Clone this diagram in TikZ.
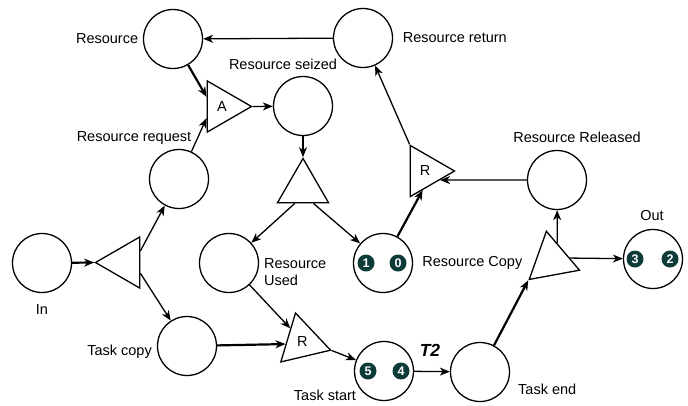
\documentclass[tikz,border=0pt]{standalone}
\usepackage{xcolor}
\usepackage{fontspec}
\setmainfont{Liberation Sans}
\usepackage{tikz}
\usetikzlibrary{shapes,arrows,positioning,calc,arrows.meta}

\definecolor{tokencol}{HTML}{0D3B38}

\tikzset{
    place/.style={draw, circle, minimum size=59pt, inner sep=0pt, line width=1.3pt},
    trans/.style={draw, regular polygon, regular polygon sides=3, minimum size=59pt,
        inner sep=0pt, line width=1.3pt, font=\fontsize{14.5}{17}\selectfont},
    token/.style={circle, fill=tokencol, text=white, minimum size=17pt, inner sep=0pt,
        font=\fontsize{12.5}{14}\selectfont\bfseries},
    lbl/.style={inner sep=0pt, font=\fontsize{14.5}{17}\selectfont},
    arc/.style={-{Stealth[length=10pt,width=8pt,inset=3pt]}, line width=1.3pt},
    heavyarc/.style={arc, line width=2.2pt}
}

\begin{document}
\begin{tikzpicture}[x=1pt,y=-1pt]
    \useasboundingbox (0,0) rectangle (688,405);

    % places
    \node[place] (res) at (173,39) {};
    \node[place] (ret) at (363,38) {};
    \node[place] (seized) at (303,106) {};
    \node[place] (req) at (179,179) {};
    \node[place] (rel) at (557,180) {};
    \node[place] (in) at (42,263) {};
    \node[place] (used) at (229,263) {};
    \node[place] (copy) at (383,263) {};
    \node[place] (out) at (653,259) {};
    \node[place] (tcopy) at (187,346) {};
    \node[place] (tstart) at (384,371) {};
    \node[place] (tend) at (480,372) {};

    % transitions
    \node[trans, regular polygon rotate=-90] (tA) at (222,106.5) {A};
    \node[trans, regular polygon rotate=90] (tL) at (125,262.5) {};
    \node[trans] (tMid) at (303,188) {};
    \node[trans, regular polygon rotate=-90] (tR1) at (425,171) {R};
    \node[trans, regular polygon rotate=-106.7] (tR2) at (302.3,341.7) {R};
    \node[trans, regular polygon rotate=-109.6] (tRt) at (551.7,260.3) {};

    % tokens
    \node[token, xshift=-17pt] (tok1) at (copy) {1};
    \node[token, xshift=15pt] (tok0) at (copy) {0};
    \node[token, xshift=-16pt] (tok5) at (tstart) {5};
    \node[token, xshift=17pt] (tok4) at (tstart) {4};
    \node[token, xshift=-18pt] (tok3) at (out) {3};
    \node[token, xshift=17pt] (tok2) at (out) {2};

    % labels
    \node[lbl, left=4.5pt of res] (resL) {Resource};
    \node[lbl, right=9.5pt of ret] (retL) {Resource return};
    \node[lbl] (seizedL) at (283,64) {Resource seized};
    \node[lbl] (reqL) at (134,138) {Resource request};
    \node[lbl] (relL) at (577,137) {Resource Released};
    \node[lbl, anchor=west, align=left] (usedL) at (264,272) {Resource\\Used};
    \node[lbl, right=9pt of copy] (copyL) {Resource Copy};
    \node[lbl] (outL) at (652,216) {Out};
    \node[lbl] (inL) at (42,310) {In};
    \node[lbl, anchor=east] (tcopyL) at (152,352) {Task copy};
    \node[lbl] (tstartL) at (325,395) {Task start};
    \node[lbl, anchor=west] (tendL) at (518,389) {Task end};
    \node[inner sep=0pt, font=\fontsize{17.5}{20}\selectfont\bfseries\itshape] (t2L) at (430,350) {T2};

    % arcs
    \draw[arc] (ret) -- (res);
    \draw[heavyarc] (res) -- (tA.148);
    \draw[arc] (req) -- (tA.217);
    \draw[arc] (tA.corner 1) -- (seized);
    \draw[arc] (seized) -- (tMid.corner 1);
    \draw[arc] (tMid.242) -- (used);
    \draw[arc] (tMid.-56) -- (copy);
    \draw[heavyarc] (copy) -- (tR1.263);
    \draw[arc] (tR1.corner 2) -- (ret);
    \draw[arc] (rel) -- (tR1.-31);
    \draw[heavyarc] (in) -- (tL.corner 1);
    \draw[arc] (tL.37) -- (req);
    \draw[arc] (tL.-35) -- (tcopy);
    \draw[heavyarc] (tcopy) -- (tR2.188);
    \draw[arc] (used) -- (tR2.132);
    \draw[arc] (tR2.corner 1) -- (tstart);
    \draw[arc] (tstart) -- (tend);
    \draw[heavyarc] (tend) -- (tRt.corner 3);
    \draw[arc] (tRt.72) -- (rel);
    \draw[arc] (tRt.7) -- (out);
\end{tikzpicture}
\end{document}
